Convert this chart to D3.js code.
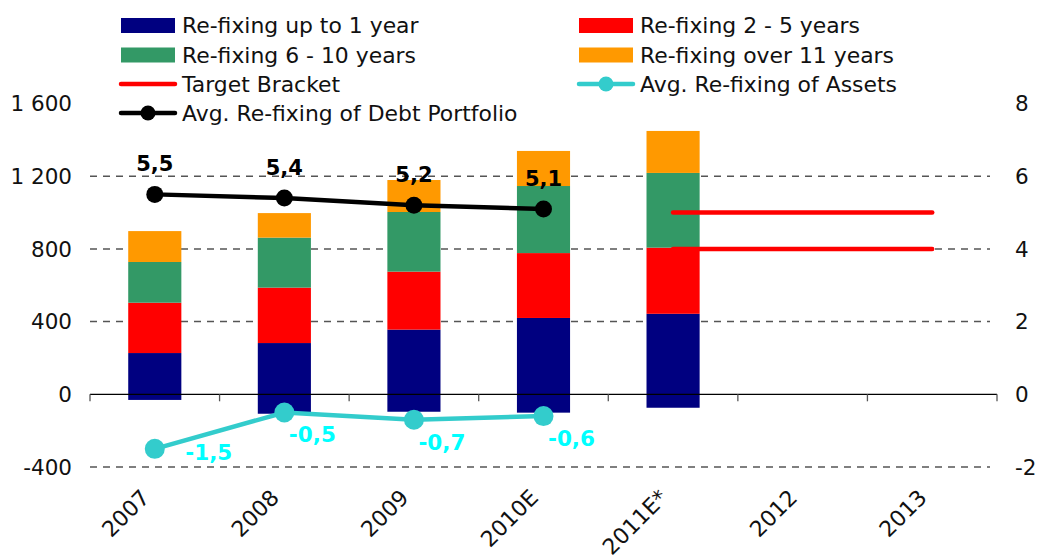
<!DOCTYPE html>
<html>
<head>
<meta charset="utf-8">
<script src="https://cdn.jsdelivr.net/npm/d3@7"></script>
<style>
  body { margin: 0; background: #fff; }
  text { font-family: "DejaVu Sans", Verdana, sans-serif; }
</style>
</head>
<body>
<div id="chart"></div>
<script>
var categories = ['2007', '2008', '2009', '2010E', '2011E*', '2012', '2013'];

// stacked volumes (left axis)
var upTo1 = [227, 282, 356, 420, 443, null, null];
var upTo1Neg = [-31, -107, -96, -101, -74, null, null];
var twoToFive = [277, 305, 319, 357, 364, null, null];
var sixToTen = [224, 275, 328, 369, 411, null, null];
var over11 = [170, 135, 176, 193, 231, null, null];

// years (right axis)
var debtAvg = [5.5, 5.4, 5.2, 5.1, null, null, null];
var assetsAvg = [-1.5, -0.5, -0.7, -0.6, null, null, null];
var targetHigh = [null, null, null, null, 5, 5, 5];
var targetLow = [null, null, null, null, 4, 4, 4];

var leftTicks = [-400, 0, 400, 800, 1200, 1600];
var rightTicks = [-2, 0, 2, 4, 6, 8];

var series = [
  {label: 'Re-fixing up to 1 year', values: upTo1, color: '#000080'},
  {label: 'Re-fixing 2 - 5 years', values: twoToFive, color: '#FF0000'},
  {label: 'Re-fixing 6 - 10 years', values: sixToTen, color: '#339966'},
  {label: 'Re-fixing over 11 years', values: over11, color: '#FF9900'}
];

var width = 1037, height = 557;
var x0 = 90, x1 = 997;

var svg = d3.select('#chart').append('svg')
  .attr('width', width)
  .attr('height', height);

var x = d3.scaleBand().domain(categories).range([x0, x1]).paddingInner(0).paddingOuter(0);
var y = d3.scaleLinear().domain([-400, 1600]).range([467, 103.5]);
var y2 = d3.scaleLinear().domain([-2, 8]).range([467, 103.5]);

// gridlines
svg.append('g').selectAll('line')
  .data(leftTicks.filter(function(d) { return d !== 0 && d !== 1600; }))
  .enter().append('line')
    .attr('x1', x0).attr('x2', 990)
    .attr('y1', function(d) { return y(d); })
    .attr('y2', function(d) { return y(d); })
    .style('stroke', '#555')
    .style('stroke-width', 1.5)
    .style('stroke-dasharray', '7,6');

// stacked bars
var barW = x.bandwidth() * 0.41;
var stacks = categories.map(function(c, i) {
  var base = 0;
  return series.map(function(s) {
    var v = s.values[i];
    var seg = {cat: c, y0: base, y1: base + (v || 0), color: s.color, v: v};
    base += (v || 0);
    return seg;
  }).concat([{cat: c, y0: upTo1Neg[i] || 0, y1: 0, color: series[0].color, v: upTo1Neg[i]}]);
});

svg.append('g').selectAll('g')
  .data(stacks)
  .enter().append('g')
  .selectAll('rect')
  .data(function(d) { return d.filter(function(s) { return s.v != null; }); })
  .enter().append('rect')
    .attr('x', function(d) { return x(d.cat) + (x.bandwidth() - barW) / 2; })
    .attr('width', barW)
    .attr('y', function(d) { return y(Math.max(d.y0, d.y1)); })
    .attr('height', function(d) { return Math.abs(y(d.y0) - y(d.y1)); })
    .style('fill', function(d) { return d.color; });

// x axis at zero
var xAxis = svg.append('g');
xAxis.append('line')
  .attr('x1', x0).attr('x2', x1)
  .attr('y1', y(0)).attr('y2', y(0))
  .style('stroke', '#000').style('stroke-width', 1.3);
xAxis.selectAll('.tick')
  .data(categories.concat(['end']))
  .enter().append('line')
    .attr('x1', function(d, i) { return x0 + i * x.bandwidth(); })
    .attr('x2', function(d, i) { return x0 + i * x.bandwidth(); })
    .attr('y1', y(0)).attr('y2', y(0) + 7)
    .style('stroke', '#555').style('stroke-width', 1.3);

svg.append('g').selectAll('text')
  .data(categories)
  .enter().append('text')
    .attr('transform', function(d) {
      return 'translate(' + (x(d) + x.bandwidth() / 2 - 4) + ',499)rotate(-45)';
    })
    .attr('text-anchor', 'end')
    .style('font-size', '22px')
    .style('fill', '#111')
    .text(function(d) { return d; });

// left and right tick labels
var fmt = function(v) { return d3.format(',')(v).replace(/,/g, ' ').replace('−', '-'); };
svg.append('g').selectAll('text')
  .data(leftTicks)
  .enter().append('text')
    .attr('x', 72)
    .attr('y', function(d) { return y(d); })
    .attr('dy', '0.36em')
    .attr('text-anchor', 'end')
    .style('font-size', '21.5px')
    .style('fill', '#111')
    .text(fmt);

svg.append('g').selectAll('text')
  .data(rightTicks)
  .enter().append('text')
    .attr('x', 1015)
    .attr('y', function(d) { return y2(d); })
    .attr('dy', '0.36em')
    .style('font-size', '21.5px')
    .style('fill', '#111')
    .text(fmt);

// target bracket
[targetHigh, targetLow].forEach(function(arr) {
  var pts = categories.map(function(c, i) { return {c: c, v: arr[i]}; })
    .filter(function(p) { return p.v != null; });
  svg.append('path')
    .datum(pts)
    .attr('d', d3.line()
      .x(function(p) { return x(p.c) + x.bandwidth() / 2; })
      .y(function(p) { return y2(p.v); }))
    .style('fill', 'none')
    .style('stroke', '#FF0000')
    .style('stroke-width', 4.5)
    .style('stroke-linecap', 'round');
});

// line series
function drawLine(values, color, r, w) {
  var pts = categories.map(function(c, i) { return {c: c, v: values[i]}; })
    .filter(function(p) { return p.v != null; });
  var g = svg.append('g');
  g.append('path')
    .datum(pts)
    .attr('d', d3.line()
      .x(function(p) { return x(p.c) + x.bandwidth() / 2; })
      .y(function(p) { return y2(p.v); }))
    .style('fill', 'none')
    .style('stroke', color)
    .style('stroke-width', w);
  g.selectAll('circle').data(pts).enter().append('circle')
    .attr('cx', function(p) { return x(p.c) + x.bandwidth() / 2; })
    .attr('cy', function(p) { return y2(p.v); })
    .attr('r', r)
    .style('fill', color);
  return pts;
}

var dec = function(v) { return d3.format('.1f')(v).replace('.', ',').replace('−', '-'); };

var debtPts = drawLine(debtAvg, '#000', 8.5, 4.5);
svg.append('g').selectAll('text').data(debtPts).enter().append('text')
  .attr('x', function(p) { return x(p.c) + x.bandwidth() / 2; })
  .attr('y', function(p) { return y2(p.v) - 23; })
  .attr('text-anchor', 'middle')
  .style('font-size', '21px')
  .style('font-weight', 'bold')
  .style('fill', '#000')
  .text(function(p) { return dec(p.v); });

var assetPts = drawLine(assetsAvg, '#33CCCC', 10, 4.5);
svg.append('g').selectAll('text').data(assetPts).enter().append('text')
  .attr('x', function(p, i) { return x(p.c) + x.bandwidth() / 2 + (i === 0 ? 54 : 28); })
  .attr('y', function(p, i) { return y2(p.v) + (i === 0 ? 11 : 30); })
  .attr('text-anchor', 'middle')
  .style('font-size', '21.5px')
  .style('font-weight', 'bold')
  .style('fill', '#00FFFF')
  .text(function(p) { return dec(p.v); });

// legend
var legendItems = [
  {label: series[0].label, type: 'rect', color: series[0].color, col: 0, row: 0},
  {label: series[1].label, type: 'rect', color: series[1].color, col: 1, row: 0},
  {label: series[2].label, type: 'rect', color: series[2].color, col: 0, row: 1},
  {label: series[3].label, type: 'rect', color: series[3].color, col: 1, row: 1},
  {label: 'Target Bracket', type: 'line', color: '#FF0000', col: 0, row: 2},
  {label: 'Avg. Re-fixing of Assets', type: 'marker', color: '#33CCCC', col: 1, row: 2},
  {label: 'Avg. Re-fixing of Debt Portfolio', type: 'marker', color: '#000', col: 0, row: 3}
];
var colX = [121, 579], rowY = [25.5, 55, 84, 113];

var leg = svg.append('g').selectAll('g').data(legendItems).enter().append('g')
  .attr('transform', function(d) { return 'translate(' + colX[d.col] + ',' + rowY[d.row] + ')'; });

leg.filter(function(d) { return d.type === 'rect'; }).append('rect')
  .attr('x', 0).attr('y', -7.5).attr('width', 54).attr('height', 15)
  .style('fill', function(d) { return d.color; });
leg.filter(function(d) { return d.type !== 'rect'; }).append('line')
  .attr('x1', 0).attr('x2', 54).attr('y1', 0).attr('y2', 0)
  .style('stroke', function(d) { return d.color; })
  .style('stroke-width', 4.5)
  .style('stroke-linecap', 'round');
leg.filter(function(d) { return d.type === 'marker'; }).append('circle')
  .attr('cx', 27).attr('cy', 0).attr('r', 7.5)
  .style('fill', function(d) { return d.color; });
leg.append('text')
  .attr('x', 61).attr('y', 0).attr('dy', '0.36em')
  .style('font-size', '21.9px')
  .style('fill', '#111')
  .text(function(d) { return d.label; });
</script>
</body>
</html>
